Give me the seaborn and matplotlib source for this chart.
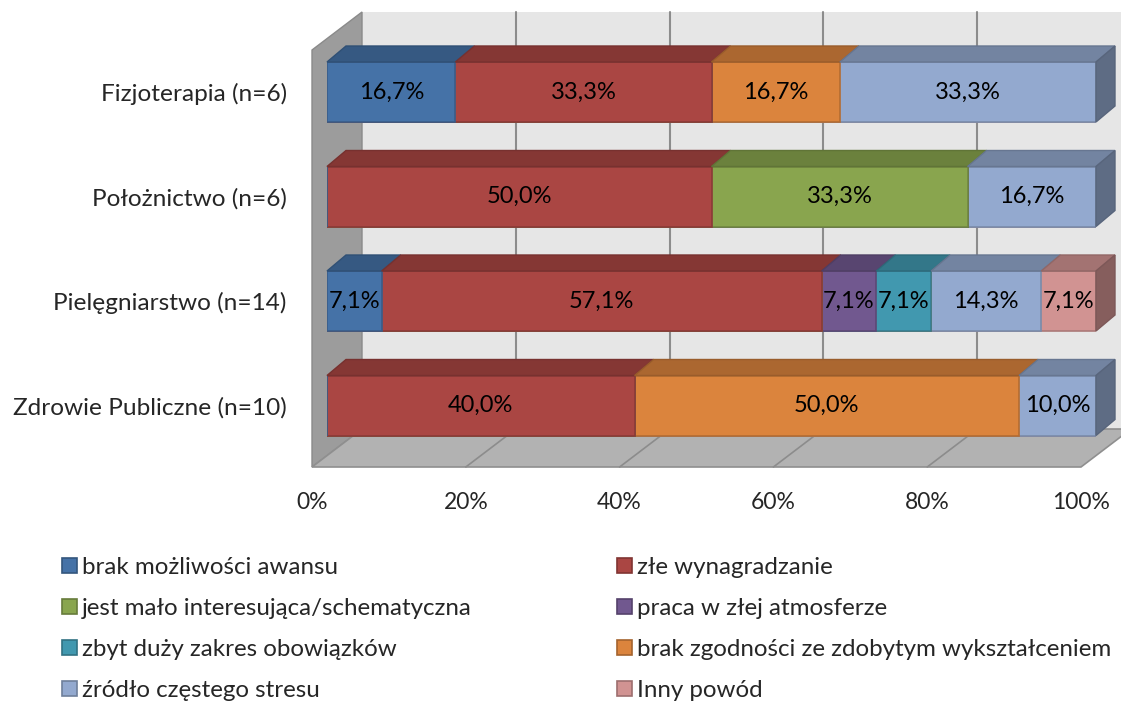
import numpy as np
import matplotlib.pyplot as plt
import matplotlib.colors as mcolors
from matplotlib.patches import Patch
from matplotlib.transforms import ScaledTranslation
import seaborn as sns

# ============================================================
# Data
# ============================================================

categories = [
    "Fizjoterapia (n=6)",
    "Położnictwo (n=6)",
    "Pielęgniarstwo (n=14)",
    "Zdrowie Publiczne (n=10)",
]

reasons = [
    "brak możliwości awansu",
    "złe wynagradzanie",
    "jest mało interesująca/schematyczna",
    "praca w złej atmosferze",
    "zbyt duży zakres obowiązków",
    "brak zgodności ze zdobytym wykształceniem",
    "źródło częstego stresu",
    "Inny powód",
]

brak_awansu = [16.7, 0.0, 7.1, 0.0]
zle_wynagradzanie = [33.3, 50.0, 57.1, 40.0]
malo_interesujaca = [0.0, 33.3, 0.0, 0.0]
zla_atmosfera = [0.0, 0.0, 7.1, 0.0]
duzy_zakres = [0.0, 0.0, 7.1, 0.0]
brak_zgodnosci = [16.7, 0.0, 0.0, 50.0]
zrodlo_stresu = [33.3, 16.7, 14.3, 10.0]
inny_powod = [0.0, 0.0, 7.1, 0.0]

series = [brak_awansu, zle_wynagradzanie, malo_interesujaca, zla_atmosfera,
          duzy_zakres, brak_zgodnosci, zrodlo_stresu, inny_powod]

colors = ["#4572A7", "#AA4643", "#89A54E", "#71588F",
          "#4198AF", "#DB843D", "#93A9CF", "#D19392"]

# ============================================================
# Style
# ============================================================

sns.set_style("white")
plt.rcParams["font.family"] = ["Lato", "DejaVu Sans"]


def shade(c, f):
    r, g, b = mcolors.to_rgb(c)
    return (r * f, g * f, b * f)


values = np.array(series, dtype=float)          # (reason, category)
shares = values / values.sum(axis=0) * 100       # 100% stacked
cum = np.cumsum(shares, axis=0)
starts = cum - shares

fig = plt.figure(figsize=(11.21, 7.04), dpi=100)
ax = fig.add_axes([327 / 1121, 1 - 457.75 / 704, 769 / 1121, 418 / 704])

# pixel sizes of one data unit
ux = 769 / 100
uy = 104.5

bar_h = 60 / uy
dx, dy = 19 / ux, -16 / uy          # bar depth
wx, wy = 50 / ux, -38 / uy          # wall depth
fx = -15 / ux                       # front of floor
floor_y = 3.5 + 9.25 / uy           # floor front edge
top_y = -0.5 + 10.25 / uy           # top of left wall (front)

# ============================================================
# Walls and floor
# ============================================================

ax.fill([fx + wx, 110, 110, fx + wx],
        [top_y + wy, top_y + wy, floor_y + wy, floor_y + wy],
        color="#e6e6e6", lw=0, clip_on=False, zorder=0)
ax.fill([fx, fx + wx, fx + wx, fx],
        [top_y, top_y + wy, floor_y + wy, floor_y],
        facecolor="#9c9c9c", edgecolor="#8a8a8a", lw=1, clip_on=False, zorder=0.5)
ax.fill([fx, 100 + fx, 100 + fx + wx, fx + wx],
        [floor_y, floor_y, floor_y + wy, floor_y + wy],
        facecolor="#b2b2b2", edgecolor="#8f8f8f", lw=1.2, clip_on=False, zorder=0.5)

for t in [20, 40, 60, 80, 100]:
    ax.plot([t + fx + wx, t + fx + wx], [top_y + wy, floor_y + wy],
            color="#8c8c8c", lw=1.5, clip_on=False, zorder=0.6)
for t in [20, 40, 60, 80]:
    ax.plot([t + fx, t + fx + wx], [floor_y, floor_y + wy],
            color="#8c8c8c", lw=1.2, clip_on=False, zorder=0.6)

# ============================================================
# Front faces (seaborn, cumulative trick)
# ============================================================

for i in range(len(reasons) - 1, -1, -1):
    sns.barplot(x=cum[i], y=categories, orient="h", color=colors[i],
                saturation=1, width=bar_h, errorbar=None,
                edgecolor=shade(colors[i], 0.82), linewidth=1.2,
                ax=ax, zorder=2)

# ============================================================
# Top and side faces, value labels
# ============================================================

for j in range(len(categories)):
    yt = j - bar_h / 2
    yb = j + bar_h / 2
    last = None
    for i in range(len(reasons)):
        if values[i, j] <= 0:
            continue
        x0, x1 = starts[i, j], cum[i, j]
        ax.fill([x0, x1, x1 + dx, x0 + dx], [yt, yt, yt + dy, yt + dy],
                facecolor=shade(colors[i], 0.78),
                edgecolor=shade(colors[i], 0.7), lw=1, clip_on=False, zorder=3)
        label = f"{values[i, j]:.1f}%".replace(".", ",")
        ax.text((x0 + x1) / 2, j, label, ha="center", va="center",
                fontsize=17, color="black", zorder=5)
        last = i
    ax.fill([100, 100 + dx, 100 + dx, 100],
            [yt, yt + dy, yb + dy, yb],
            facecolor=shade(colors[last], 0.64),
            edgecolor=shade(colors[last], 0.6), lw=1, clip_on=False, zorder=3)

# ============================================================
# Axes
# ============================================================

ax.set_xlim(0, 100)
ax.set_ylim(3.5, -0.5)
for s in ax.spines.values():
    s.set_visible(False)
ax.patch.set_visible(False)

ax.set_xticks([0, 20, 40, 60, 80, 100])
ax.set_xticklabels(["0%", "20%", "40%", "60%", "80%", "100%"], fontsize=16.5)
ax.set_yticks(range(len(categories)))
ax.set_yticklabels(categories, fontsize=17.6)
ax.tick_params(axis="x", length=0, pad=25)
ax.tick_params(axis="y", length=0, pad=29)
ax.set_xlabel("")
ax.set_ylabel("")
shift = ScaledTranslation(-15 / 100, 0, fig.dpi_scale_trans)
for lab in ax.get_xticklabels():
    lab.set_transform(lab.get_transform() + shift)

# ============================================================
# Legend (two columns)
# ============================================================

handles = [Patch(facecolor=c, edgecolor=shade(c, 0.75), lw=1.2) for c in colors]
opts = dict(frameon=False, fontsize=17.4, handlelength=0.6, handleheight=0.6,
            handletextpad=0.24, labelspacing=0.83, borderpad=0,
            borderaxespad=0, loc="upper left")
leg1 = fig.legend(handles[0::2], reasons[0::2],
                  bbox_to_anchor=(62 / 1121, 1 - 557 / 704), **opts)
leg2 = fig.legend(handles[1::2], reasons[1::2],
                  bbox_to_anchor=(617 / 1121, 1 - 557 / 704), **opts)

plt.savefig("out.png", dpi=100)
